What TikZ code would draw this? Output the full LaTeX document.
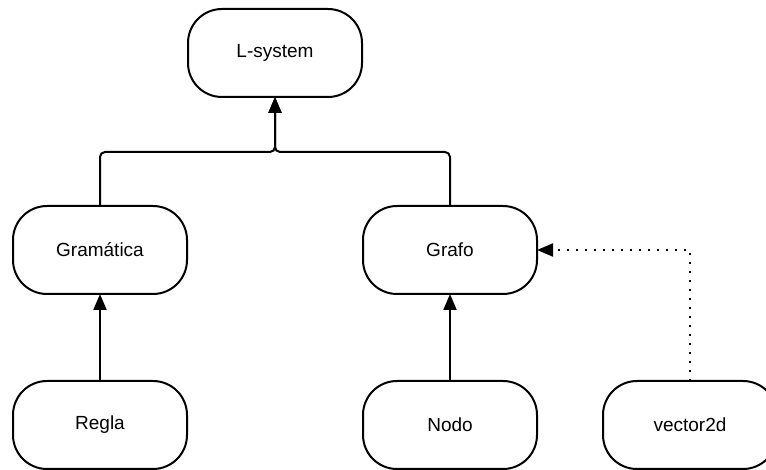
\documentclass[tikz,border=0pt]{standalone}
\usepackage{fontspec}
\setmainfont{Liberation Sans}
\usepackage{tikz}
\usetikzlibrary{positioning,calc,arrows.meta}
\tikzstyle{every picture}+=[font=\fontsize{19}{22}\selectfont]
\tikzset{%
  block/.style={%
    draw, line width=2pt, rounded corners=34pt,
    minimum width=174pt, minimum height=88pt,
    text centered, inner sep=0pt, outer sep=0pt
  },
  arrow/.style={line width=2pt,-{Triangle[length=16pt,width=13pt]}},
  dependency/.style={line width=2pt,dash pattern=on 2pt off 7pt,
    -{Triangle[length=16pt,width=13pt]}},
}

\begin{document}
\begin{tikzpicture}
        \useasboundingbox (0,0) rectangle (766pt,470pt);
        \clip (0,0) rectangle (766pt,470pt);
        \node (Gramatica)[block] at (100pt,220pt) {Gramática};
        \node (Grafo)[block,right=176pt of Gramatica] {Grafo};
        \node (Regla)[block,below=87pt of Gramatica] {Regla};
        \node (Nodo)[block,below=87pt of Grafo] {Nodo};
        \node (vector2d)[block,right=66pt of Nodo] {vector2d};
        \node (LSystem)[block] at ($(Gramatica)!.5!(Grafo)+(0,197pt)$) {L-system};

        \coordinate (Junction) at ($(Gramatica.north)!.5!(Grafo.north)+(0,54pt)$);
        \coordinate (Corner) at (vector2d.north |- Grafo.east);

        \path[arrow]
            (Regla) edge (Gramatica)
            (Nodo) edge (Grafo);

        \draw[arrow, rounded corners=5pt]
            (Gramatica.north) |- (Junction) -- (LSystem.south);
        \draw[arrow, rounded corners=5pt]
            (Grafo.north) |- (Junction) -- (LSystem.south);

        \draw[dependency]
            (vector2d.north) -- (Corner) -- (Grafo.east);
    \end{tikzpicture}
\end{document}
